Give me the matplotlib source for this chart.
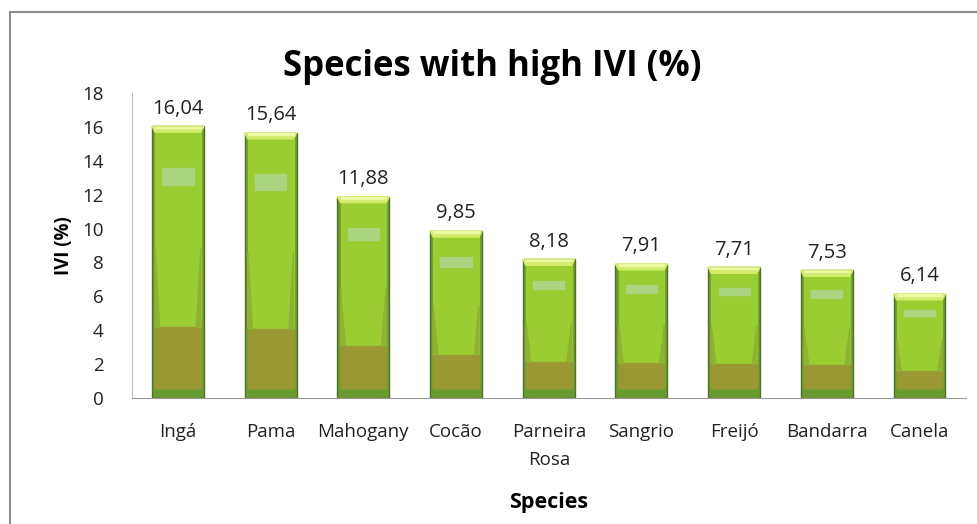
import numpy as np
import matplotlib
matplotlib.use("Agg")
import matplotlib.pyplot as plt
from matplotlib.patches import Rectangle, Polygon
from matplotlib.lines import Line2D

# dados
species = ['Ingá', 'Pama', 'Mahogany', 'Cocão', 'Parneira\nRosa',
           'Sangrio', 'Freijó', 'Bandarra', 'Canela']
ivi = [16.04, 15.64, 11.88, 9.85, 8.18, 7.91, 7.71, 7.53, 6.14]
yticks = [0, 2, 4, 6, 8, 10, 12, 14, 16, 18]

plt.rcParams['font.family'] = ['Open Sans', 'DejaVu Sans']

fig = plt.figure(figsize=(9.78, 5.24), dpi=100)
fig.patch.set_facecolor('white')
# moldura cinza do grafico
fig.add_artist(Line2D([10/978, 1], [1-12/524, 1-12/524], color='#8c8c8c', lw=1.5))
fig.add_artist(Line2D([10/978, 10/978], [0, 1-12/524], color='#8c8c8c', lw=1.5))

ax = fig.add_axes([0.1346, 0.2405, 0.853, 0.582])
x = np.arange(len(species))
w = 0.56

# corpo da barra com efeito de bisel
ax.bar(x, ivi, width=w, color='#6a9b30', edgecolor='#55702a', linewidth=1, zorder=2)
for xi, h in zip(x, ivi):
    l = xi - w/2
    iw = w * 0.06
    # parte verde clara
    ax.add_patch(Rectangle((l + iw, 0.6), w - 2*iw, h - 0.95, color='#9acd32', zorder=3))
    # faixa oliva inferior
    ax.add_patch(Rectangle((l + iw, 0.6), w - 2*iw, 0.26*h - 0.6, color='#9a9832', zorder=3))
    # laterais escuras subindo
    ax.add_patch(Polygon([(l + iw, 0.26*h), (l + iw + 0.05, 0.26*h), (l + iw, 0.55*h)],
                         color='#90b232', zorder=3))
    ax.add_patch(Polygon([(l + w - iw, 0.26*h), (l + w - iw - 0.05, 0.26*h), (l + w - iw, 0.55*h)],
                         color='#90b232', zorder=3))
    # tampa superior
    ax.add_patch(Polygon([(l, h), (l + w, h), (l + w - iw, h - 0.35), (l + iw, h - 0.35)],
                         color='#d2ec6a', zorder=4))
    ax.add_patch(Rectangle((l + iw, h - 0.12), w - 2*iw, 0.1, color='#eef9a8', zorder=4))
    # reflexo claro
    ax.add_patch(Rectangle((xi - w*0.3, 0.785*h), w*0.6, 0.06*h, color='#a9d480', zorder=4))
    ax.text(xi, h + 0.45, f'{h:.2f}'.replace('.', ','), ha='center', va='bottom',
            fontsize=14.5, color='#222222')

ax.set_xlim(-0.5, len(species) - 0.5)
ax.set_ylim(0, 18)
ax.set_yticks(yticks)
ax.set_xticks(x)
ax.set_xticklabels(species, fontsize=13.5, color='#222222', linespacing=1.75)
ax.tick_params(axis='y', labelsize=13.5, length=0, pad=20, colors='#222222')
ax.tick_params(axis='x', length=0, pad=18)
for s in ['top', 'right']:
    ax.spines[s].set_visible(False)
ax.spines['left'].set_color('#bfbfbf')
ax.spines['bottom'].set_color('#999999')

ax.set_ylabel('IVI (%)', fontsize=13.5, fontweight='bold', labelpad=6)
ax.set_xlabel('Species', fontsize=15.5, fontweight='bold', labelpad=16)
fig.text(0.503, 0.872, 'Species with high IVI (%)', ha='center', va='center',
         fontsize=25, fontweight='bold')

fig.savefig('out.png', dpi=100)
